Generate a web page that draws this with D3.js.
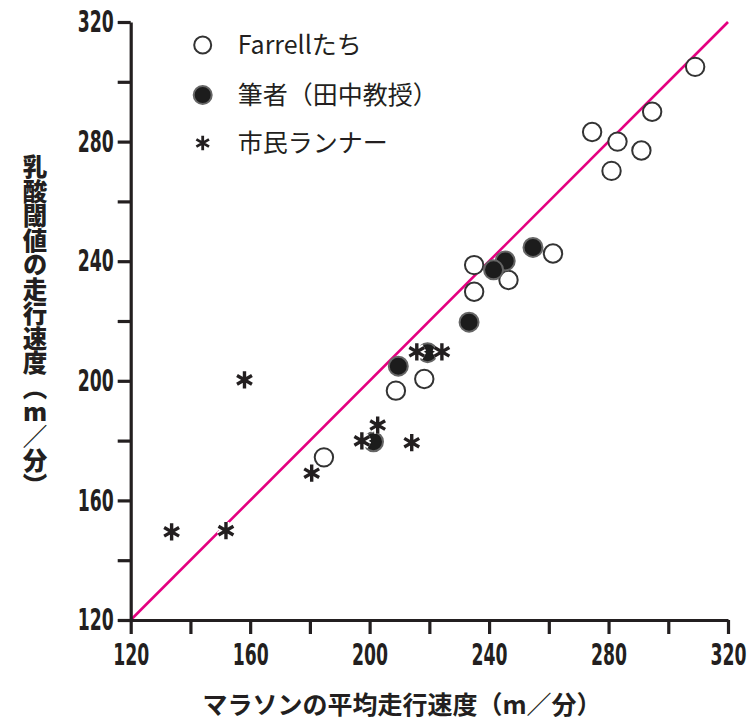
<!DOCTYPE html>
<html>
<head>
<meta charset="utf-8">
<script src="https://cdn.jsdelivr.net/npm/d3@7"></script>
<style>
  body { margin: 0; background: #fff; }
</style>
</head>
<body>
<div id="wrapper"></div>
<script>
// Farrellたち (open circles)
const farrellX = [309, 294.6, 274.5, 283, 291, 281, 235, 261.4, 246.5, 235, 218.3, 208.8, 184.7]
const farrellY = [305, 290, 283.2, 280, 277, 270.2, 238.7, 242.6, 233.7, 229.8, 200.6, 196.7, 174.4]
// 筆者（田中教授） (filled circles)
const authorX = [254.7, 245.4, 241.5, 233.3, 209.6, 219.4, 201.3]
const authorY = [244.6, 240.1, 237.1, 219.6, 204.9, 209.4, 179.6]
// 市民ランナー (asterisks)
const runnerX = [158.1, 202.7, 197.4, 214.1, 180.6, 133.7, 151.9, 215.8, 224.2]
const runnerY = [200.3, 185.2, 179.9, 179.3, 169.1, 149.5, 149.9, 209.7, 209.7]

const tickValues = [120, 140, 160, 180, 200, 220, 240, 260, 280, 300, 320]
const legendLabels = ["Farrellたち", "筆者（田中教授）", "市民ランナー"]
const xTitle = "マラソンの平均走行速度（m／分）"
const yTitle = "乳酸閾値の走行速度（m／分）"

function drawScatter(){
    //1) Access data
    const toPoints = (xs, ys) => xs.map((x, i) => ({x: x, y: ys[i]}))
    const farrell = toPoints(farrellX, farrellY)
    const author = toPoints(authorX, authorY)
    const runners = toPoints(runnerX, runnerY)
    const xAccessor = d => d.x
    const yAccessor = d => d.y

    //2) Chart dimensions
    let dimensions = {
        width: 748,
        height: 724,
        margin: { top: 22, right: 20, bottom: 104, left: 130.7 },
    }
    dimensions.boundedWidth = 728 - dimensions.margin.left
    dimensions.boundedHeight = dimensions.height - dimensions.margin.top - dimensions.margin.bottom

    //3) Canvas
    const wrapper = d3.select("#wrapper")
                        .append("svg")
                        .attr("width", dimensions.width)
                        .attr("height", dimensions.height)

    const bounds = wrapper.append("g")
                        .attr("transform", `translate(${dimensions.margin.left},${dimensions.margin.top})`)

    //4) Scales
    const xScale = d3.scaleLinear()
                        .domain([120, 320])
                        .range([0, dimensions.boundedWidth])
    const yScale = d3.scaleLinear()
                        .domain([120, 320])
                        .range([dimensions.boundedHeight, 0])

    //5) Identity line
    bounds.append("line")
        .attr("x1", xScale(120)).attr("y1", yScale(120))
        .attr("x2", xScale(320)).attr("y2", yScale(320))
        .attr("stroke", "#e4007f")
        .attr("stroke-width", 2.6)

    //6) Axes
    const fmt = d => d % 40 === 0 ? d : ""
    const xAxis = bounds.append("g")
        .attr("transform", `translate(0,${dimensions.boundedHeight})`)
        .call(d3.axisBottom(xScale).tickValues(tickValues).tickFormat(fmt).tickSize(14).tickSizeOuter(0).tickPadding(10))
    const yAxis = bounds.append("g")
        .call(d3.axisLeft(yScale).tickValues(tickValues).tickFormat(fmt).tickSize(13).tickSizeOuter(0).tickPadding(4))

    ;[xAxis, yAxis].forEach(ax => {
        ax.select(".domain").attr("stroke", "#231f20").attr("stroke-width", 3.2)
        ax.selectAll(".tick line").attr("stroke", "#231f20").attr("stroke-width", 3.2)
        ax.selectAll(".tick text")
            .attr("fill", "#231f20")
            .style("font-family", "'Liberation Sans Narrow', 'DejaVu Sans Condensed', 'Liberation Sans', sans-serif")
            .style("font-weight", "bold")
            .style("font-size", "30px")
            .filter(function(){ return this.textContent !== "" })
            .attr("textLength", 36)
            .attr("lengthAdjust", "spacingAndGlyphs")
    })

    //7) Points
    bounds.append("g").selectAll("circle")
        .data(farrell)
        .enter()
        .append("circle")
        .attr("cx", d => xScale(xAccessor(d)))
        .attr("cy", d => yScale(yAccessor(d)))
        .attr("r", 9.2)
        .attr("fill", "#fff")
        .attr("stroke", "#333")
        .attr("stroke-width", 2)

    bounds.append("g").selectAll("circle")
        .data(author)
        .enter()
        .append("circle")
        .attr("cx", d => xScale(xAccessor(d)))
        .attr("cy", d => yScale(yAccessor(d)))
        .attr("r", 9.5)
        .attr("fill", "#1c1c1c")
        .attr("stroke", "#666")
        .attr("stroke-width", 2)

    const star = d3.symbol().type(d3.symbolAsterisk).size(210)
    const starG = bounds.append("g").selectAll("g")
        .data(runners)
        .enter()
        .append("g")
        .attr("transform", d => `translate(${xScale(xAccessor(d))},${yScale(yAccessor(d))})`)
    starG.append("path").attr("d", star).attr("stroke", "#fff").attr("stroke-width", 7).attr("fill", "none")
    starG.append("path").attr("d", star).attr("stroke", "#231f20").attr("stroke-width", 3.4).attr("fill", "none")

    //8) Legend
    const legend = wrapper.append("g").attr("transform", "translate(202.7,45)")
    const rows = legend.selectAll("g")
        .data(legendLabels)
        .enter()
        .append("g")
        .attr("transform", (d, i) => `translate(0,${[0, 50, 98][i]})`)
    rows.filter((d, i) => i === 0).append("circle")
        .attr("r", 8.5).attr("fill", "#fff").attr("stroke", "#333").attr("stroke-width", 2)
    rows.filter((d, i) => i === 1).append("circle")
        .attr("r", 9).attr("fill", "#1c1c1c").attr("stroke", "#666").attr("stroke-width", 2)
    rows.filter((d, i) => i === 2).append("path")
        .attr("d", d3.symbol().type(d3.symbolAsterisk).size(150))
        .attr("stroke", "#231f20").attr("stroke-width", 2.8).attr("fill", "none")
    rows.append("text")
        .attr("x", 35)
        .attr("dy", "0.35em")
        .attr("fill", "#231f20")
        .style("font-family", "'Noto Sans CJK JP', 'Noto Sans', sans-serif")
        .style("font-size", "25px")
        .text(d => d)

    //9) Axis titles
    wrapper.append("text")
        .attr("x", 402)
        .attr("y", 714)
        .attr("text-anchor", "middle")
        .attr("fill", "#231f20")
        .style("font-family", "'Noto Sans CJK JP', sans-serif")
        .style("font-weight", "bold")
        .style("font-size", "25px")
        .text(xTitle)

    wrapper.append("text")
        .attr("x", 35)
        .attr("y", 326)
        .attr("text-anchor", "middle")
        .attr("fill", "#231f20")
        .style("writing-mode", "vertical-rl")
        .style("text-orientation", "upright")
        .style("font-family", "'Noto Sans CJK JP', sans-serif")
        .style("font-weight", "900")
        .style("font-size", "24.5px")
        .text(yTitle)
}
drawScatter()
</script>
</body>
</html>
